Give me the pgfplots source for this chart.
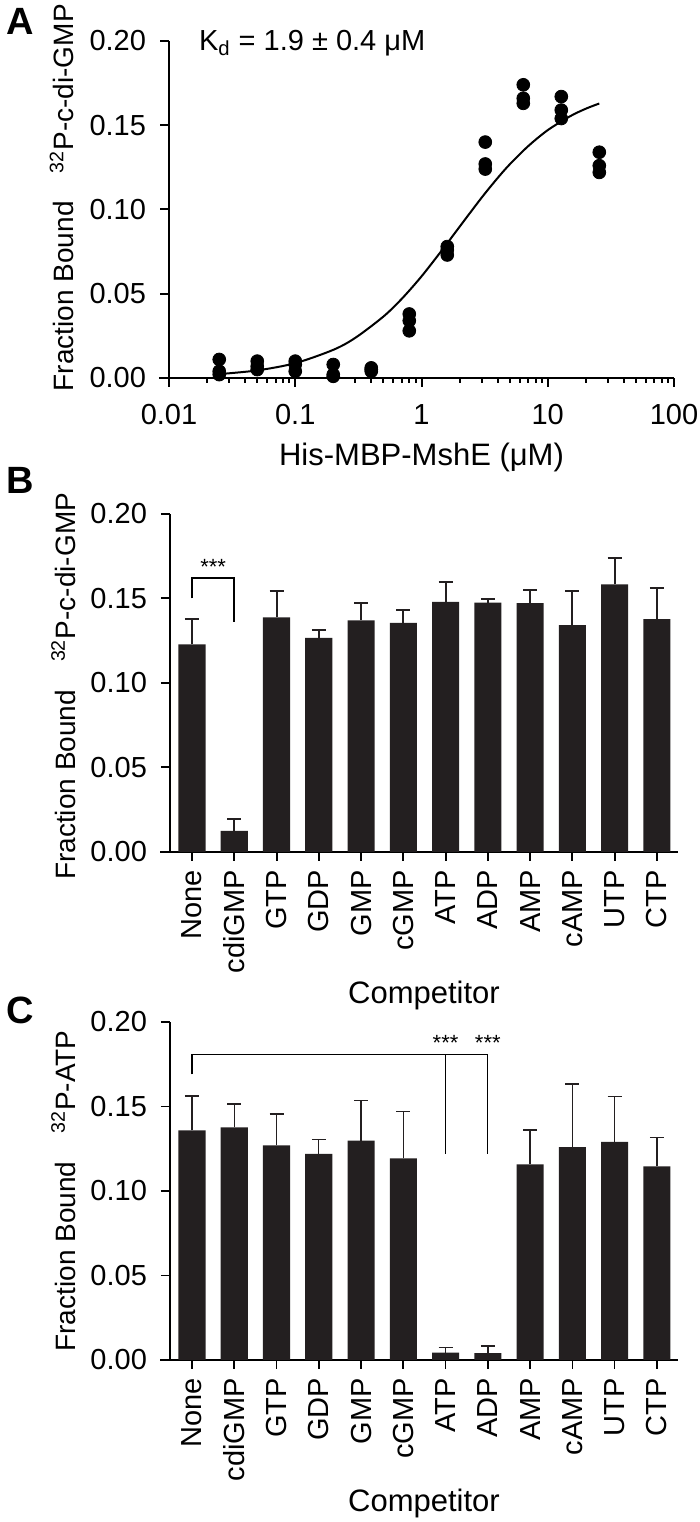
\documentclass[border=0pt]{standalone}
\usepackage{pgfplots}
\pgfplotsset{compat=1.18}
\usepackage{pgfplotstable}
\usepackage{fontspec}
\setmainfont{Liberation Sans}
\definecolor{barc}{RGB}{35,31,32}

% panel A: binding points
\pgfplotstableread{
x y
0.025 0.011
0.025 0.004
0.025 0.002
0.05 0.010
0.05 0.007
0.05 0.005
0.1 0.010
0.1 0.008
0.1 0.004
0.2 0.008
0.2 0.002
0.2 0.001
0.4 0.006
0.4 0.005
0.4 0.004
0.8 0.038
0.8 0.034
0.8 0.028
1.6 0.078
1.6 0.076
1.6 0.073
3.2 0.140
3.2 0.127
3.2 0.124
6.4 0.174
6.4 0.166
6.4 0.163
12.8 0.167
12.8 0.159
12.8 0.154
25.6 0.134
25.6 0.126
25.6 0.122
}\tabA

% panel A: fitted curve
\pgfplotstableread{
x y
0.025 0.0023
0.05 0.0045
0.1 0.0088
0.2 0.0167
0.3 0.0239
0.5 0.0365
0.7 0.0471
1 0.0603
1.5 0.0772
2 0.0897
3 0.1071
4 0.1186
5 0.1268
7 0.1376
10 0.1471
15 0.1553
20 0.1598
25.6 0.1629
}\fitA

% panel B: c-di-GMP competition (mean, upper error)
\pgfplotstableread{
x y e
0 0.1228 0.0150
1 0.0125 0.0069
2 0.1388 0.0157
3 0.1267 0.0048
4 0.1370 0.0101
5 0.1356 0.0074
6 0.1480 0.0120
7 0.1475 0.0022
8 0.1473 0.0077
9 0.1343 0.0202
10 0.1584 0.0155
11 0.1378 0.0184
}\tabB

% panel C: ATP competition
\pgfplotstableread{
x y e
0 0.1359 0.0203
1 0.1377 0.0137
2 0.1270 0.0185
3 0.1220 0.0084
4 0.1298 0.0239
5 0.1193 0.0278
6 0.0043 0.0032
7 0.0041 0.0043
8 0.1158 0.0203
9 0.1259 0.0374
10 0.1291 0.0269
11 0.1145 0.0171
}\tabC

\pgfplotsset{
  panel/.style={
    scale only axis,
    clip=false,
    axis lines=left,
    axis line style={-, line width=1pt},
    x axis line style={shorten <=-5pt},
    tick align=outside,
    major tick length=4.5pt,
    minor tick length=2.5pt,
    tick style={line width=1pt, black},
    ymin=0, ymax=0.2,
    ytick={0,0.05,0.1,0.15,0.2},
    yticklabel style={/pgf/number format/.cd, fixed, fixed zerofill, precision=2},
    yticklabel shift=3.5pt,
    /pgf/number format/assume math mode=true,
    tick label style={font=\fontsize{14.5}{16}\selectfont},
    label style={font=\fontsize{15.5}{18}\selectfont},
    ylabel style={font=\fontsize{14}{17}\selectfont},
  },
  barpanel/.style={
    panel,
    width=254pt, height=169pt,
    xmin=-0.52, xmax=11.5,
    xtick=data,
    xticklabels={None,cdiGMP,GTP,GDP,GMP,cGMP,ATP,ADP,AMP,cAMP,UTP,CTP},
    xticklabel style={rotate=90, anchor=east},
    xticklabel shift=1pt,
    xlabel={Competitor},
    xlabel style={at={(axis description cs:0.5,-0.425)}, anchor=center},
  },
}

\begin{document}
\begin{tikzpicture}
\useasboundingbox (0,0) rectangle (350pt,761pt);

% ---- A ----
\begin{axis}[panel,
  at={(84.5pt,572pt)}, anchor=south west,
  width=252.5pt, height=168.5pt,
  xmode=log, xmin=0.01, xmax=100,
  xtick={0.01,0.1,1,10,100},
  xticklabels={0.01,0.1,1,10,100},
  xticklabel shift=5pt,
  xlabel={His-MBP-MshE (μM)},
  xlabel style={at={(axis description cs:0.5,-0.235)}, anchor=center},
  ylabel={Fraction Bound\quad\textsuperscript{32}P-c-di-GMP},
  ylabel style={at={(axis description cs:-0.212,0.535)}, anchor=center},
]
\addplot[black, line width=1pt, smooth] table[x=x, y=y] {\fitA};
\addplot[only marks, mark=*, mark size=3.2pt, black] table[x=x, y=y] {\tabA};
\node[anchor=base west, font=\fontsize{14.5}{16}\selectfont] at (axis cs:0.0152,0.1945) {K\textsubscript{d} = 1.9 ± 0.4 μM};
\end{axis}
\node[font=\fontsize{19}{22}\selectfont\bfseries] at (10pt,750.5pt) {A};

% ---- B ----
\begin{axis}[barpanel,
  at={(85pt,335pt)}, anchor=south west,
  ylabel={Fraction Bound\quad\textsuperscript{32}P-c-di-GMP},
  ylabel style={at={(axis description cs:-0.21,0.49)}, anchor=center},
]
\addplot[ybar, bar width=0.64, fill=barc, draw=none,
  error bars/.cd, y dir=plus, y explicit,
  error bar style={line width=1pt, barc},
  error mark options={rotate=90, mark size=3.5pt, line width=1pt, barc}]
  table[x=x, y=y, y error=e] {\tabB};
\draw[line width=0.8pt] (axis cs:0,0.150) -- (axis cs:0,0.162) -- (axis cs:1,0.162) -- (axis cs:1,0.136);
\node[anchor=south, inner sep=1pt, font=\fontsize{11}{12}\selectfont] at (axis cs:0.5,0.1625) {***};
\end{axis}
\node[font=\fontsize{19}{22}\selectfont\bfseries] at (10pt,521pt) {B};

% ---- C ----
\begin{axis}[barpanel,
  at={(85pt,81pt)}, anchor=south west,
  axis line style={-, line width=0.8pt},
  tick style={line width=0.8pt, black},
  ylabel={Fraction Bound\quad\textsuperscript{32}P-ATP},
  ylabel style={at={(axis description cs:-0.21,0.5)}, anchor=center},
]
\addplot[ybar, bar width=0.64, fill=barc, draw=none,
  error bars/.cd, y dir=plus, y explicit,
  error bar style={line width=0.7pt, barc},
  error mark options={rotate=90, mark size=3.5pt, line width=0.7pt, barc}]
  table[x=x, y=y, y error=e] {\tabC};
\draw[line width=0.6pt] (axis cs:0,0.169) -- (axis cs:0,0.181) -- (axis cs:7,0.181) -- (axis cs:7,0.122);
\draw[line width=0.6pt] (axis cs:6,0.181) -- (axis cs:6,0.122);
\node[anchor=south, inner sep=1pt, font=\fontsize{11}{12}\selectfont] at (axis cs:6,0.1815) {***};
\node[anchor=south, inner sep=1pt, font=\fontsize{11}{12}\selectfont] at (axis cs:7,0.1815) {***};
\end{axis}
\node[font=\fontsize{19}{22}\selectfont\bfseries] at (10pt,256pt) {C};
\end{tikzpicture}
\end{document}
